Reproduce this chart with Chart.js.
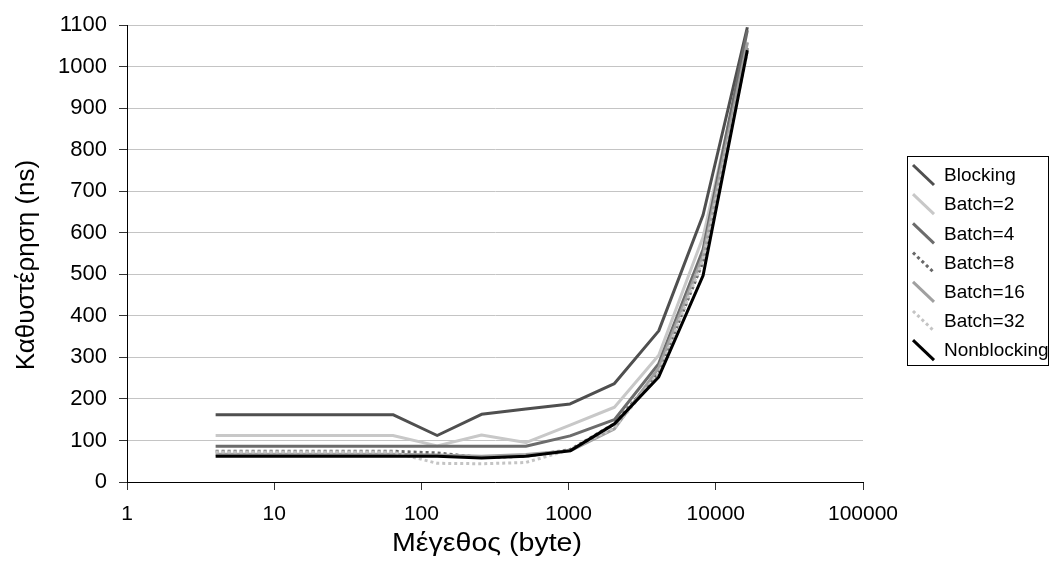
<!DOCTYPE html>
<html>
<head>
<meta charset="utf-8">
<script src="https://cdn.jsdelivr.net/npm/chart.js@4.4.1/dist/chart.umd.min.js"></script>
<style>
  html, body { margin: 0; padding: 0; background: #fff; }
  #wrap { width: 1058px; height: 567px; position: relative; }
</style>
</head>
<body>
<div id="wrap"><canvas id="c" width="1058" height="567"></canvas></div>
<script>
// ---- data ----
const sizes       = [4, 8, 16, 32, 64, 128, 256, 512, 1024, 2048, 4096, 8192, 16384];
const blocking    = [162, 162, 162, 162, 162, 112, 163, 176, 188, 237, 364, 643, 1095];
const batch2      = [112, 112, 112, 112, 112, 87, 113, 95, 137, 180, 305, 590, 1060];
const batch4      = [86, 86, 86, 86, 86, 86, 86, 86, 111, 150, 285, 560, 1088];
const batch8      = [74, 74, 74, 74, 74, 70, 59, 62, 78, 140, 265, 530, 1045];
const batch16     = [67, 67, 67, 67, 67, 65, 62, 66, 75, 128, 275, 545, 1058];
const batch32     = [72, 72, 72, 72, 72, 45, 44, 47, 78, 130, 262, 535, 1035];
const nonblocking = [62, 62, 62, 62, 62, 62, 58, 62, 75, 140, 253, 497, 1040];
const seriesNames = ['Blocking', 'Batch=2', 'Batch=4', 'Batch=8', 'Batch=16', 'Batch=32', 'Nonblocking'];
const xTickValues = [1, 10, 100, 1000, 10000, 100000];
const yTickMin = 0, yTickMax = 1100, yTickStep = 100;
const xTitle = 'Μέγεθος (byte)';
const yTitle = 'Καθυστέρηση (ns)';

// ---- styles ----
const seriesValues = [blocking, batch2, batch4, batch8, batch16, batch32, nonblocking];
const seriesColors = ['#4f4f4f', '#c8c8c8', '#6c6c6c', '#686868', '#a0a0a0', '#c4c4c4', '#000000'];
const seriesDash   = [[], [], [], [3, 3], [], [3, 3], []];
const FONT = '"Liberation Sans", Arial, sans-serif';

const datasets = seriesNames.map((name, i) => ({
  label: name,
  data: sizes.map((s, j) => ({ x: s, y: seriesValues[i][j] })),
  borderColor: seriesColors[i],
  backgroundColor: seriesColors[i],
  borderWidth: 3,
  borderDash: seriesDash[i],
  borderCapStyle: 'butt',
  borderJoinStyle: 'round',
  pointRadius: 0,
  pointHoverRadius: 0,
  tension: 0,
  fill: false,
  order: seriesNames.length - i
}));

const titlesPlugin = {
  id: 'axisTitles',
  afterDraw(chart) {
    const ctx = chart.ctx;
    ctx.save();
    ctx.fillStyle = '#000';
    ctx.textAlign = 'center';
    ctx.textBaseline = 'alphabetic';
    ctx.font = '26px ' + FONT;
    // x title (slightly wider glyphs, as in the reference)
    const w = ctx.measureText(xTitle).width;
    ctx.save();
    ctx.translate(487, 551);
    ctx.scale(190 / w, 1);
    ctx.fillText(xTitle, 0, 0);
    ctx.restore();
    // y title
    ctx.translate(34, 265);
    ctx.rotate(-Math.PI / 2);
    ctx.fillText(yTitle, 0, 0);
    ctx.restore();
  }
};

const legendPlugin = {
  id: 'sideLegend',
  afterDraw(chart) {
    const ctx = chart.ctx;
    const bx = 907.5, by = 156.5, bw = 141, bh = 209;
    ctx.save();
    ctx.strokeStyle = '#000';
    ctx.lineWidth = 1;
    ctx.strokeRect(bx, by, bw, bh);
    ctx.font = '19px ' + FONT;
    ctx.textBaseline = 'middle';
    ctx.textAlign = 'left';
    chart.data.datasets.forEach((ds, i) => {
      const cy = 175 + i * 29.2;
      ctx.beginPath();
      ctx.strokeStyle = ds.borderColor;
      ctx.lineWidth = 3;
      ctx.lineCap = 'butt';
      ctx.setLineDash(ds.borderDash || []);
      ctx.moveTo(913, cy - 10);
      ctx.lineTo(934, cy + 10);
      ctx.stroke();
      ctx.setLineDash([]);
      ctx.fillStyle = '#000';
      ctx.fillText(ds.label, 944, cy + 1);
    });
    ctx.restore();
  }
};

new Chart(document.getElementById('c'), {
  type: 'line',
  data: { datasets },
  options: {
    responsive: false,
    animation: false,
    devicePixelRatio: 1,
    layout: { padding: { top: 18, right: 195, left: 0, bottom: 0 } },
    plugins: { legend: { display: false }, tooltip: { enabled: false } },
    scales: {
      x: {
        type: 'logarithmic',
        min: 1,
        max: 100000,
        afterBuildTicks: (s) => { s.ticks = xTickValues.map(v => ({ value: v })); },
        afterFit: (s) => { s.height = 85; },
        ticks: {
          color: '#000',
          font: { family: FONT, size: 21 },
          padding: 12,
          maxRotation: 0,
          autoSkip: false,
          callback: (v) => String(v)
        },
        grid: { drawOnChartArea: false, drawTicks: true, tickLength: 8, tickColor: '#333' },
        border: { color: '#000', width: 1 }
      },
      y: {
        min: yTickMin,
        max: yTickMax,
        afterFit: (s) => { s.width = 127; },
        ticks: {
          stepSize: yTickStep,
          color: '#000',
          font: { family: FONT, size: 22 },
          padding: 12,
          callback: (v) => String(v)
        },
        grid: { color: '#c4c4c4', tickColor: '#333', tickLength: 8, lineWidth: 1 },
        border: { color: '#000', width: 1 }
      }
    }
  },
  plugins: [titlesPlugin, legendPlugin]
});
</script>
</body>
</html>
